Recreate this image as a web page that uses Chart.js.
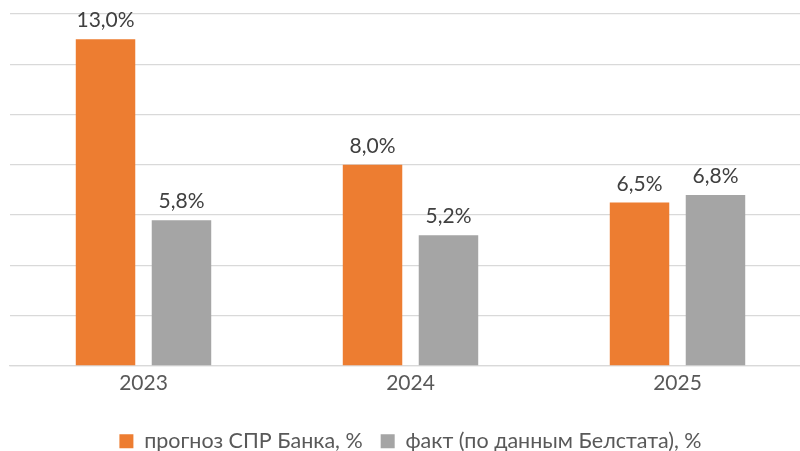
<!DOCTYPE html>
<html><head><meta charset="utf-8">
<script src="https://cdn.jsdelivr.net/npm/chart.js@4"></script>
<style>
html,body{margin:0;padding:0;background:#fff;overflow:hidden;}
#wrap{width:812px;height:462px;position:relative;}
</style></head>
<body>
<div id="wrap"><canvas id="c"></canvas></div>
<script>
const categories = ['2023', '2024', '2025'];
const seriesNames = ['прогноз СПР Банка, %', 'факт (по данным Белстата), %'];
const forecastValues = [13.0, 8.0, 6.5];
const actualValues = [5.8, 5.2, 6.8];
const yMax = 14;
const yStep = 2;

const fmt = v => v.toFixed(1).replace('.', ',') + '%';

const labelPlugin = {
  id: 'valueLabels',
  afterDatasetsDraw(chart) {
    const ctx = chart.ctx;
    ctx.save();
    ctx.font = '21px Lato';
    ctx.fillStyle = '#404040';
    ctx.textAlign = 'center';
    ctx.textBaseline = 'alphabetic';
    chart.data.datasets.forEach((ds, i) => {
      chart.getDatasetMeta(i).data.forEach((bar, j) => {
        ctx.fillText(fmt(ds.data[j]), bar.x, bar.y - 12);
      });
    });
    ctx.restore();
  }
};

new Chart(document.getElementById('c'), {
  type: 'bar',
  data: {
    labels: categories,
    datasets: [
      {label: seriesNames[0], data: forecastValues, backgroundColor: '#ED7D31'},
      {label: seriesNames[1], data: actualValues, backgroundColor: '#A5A5A5'}
    ]
  },
  options: {
    responsive: true,
    maintainAspectRatio: false,
    animation: false,
    categoryPercentage: 0.569,
    barPercentage: 0.783,
    layout: {padding: {left: 10, right: 1, top: 14, bottom: 0}},
    scales: {
      x: {
        grid: {display: false, drawTicks: false},
        border: {display: true, color: '#d9d9d9', width: 1.3},
        ticks: {font: {family: 'Lato', size: 21}, color: '#595959', padding: 5},
        afterFit(s) { s.height = 46.5; }
      },
      y: {
        min: 0, max: yMax,
        ticks: {display: false, stepSize: yStep},
        grid: {color: '#d9d9d9', lineWidth: 1.3, drawTicks: false},
        border: {display: false},
        afterFit(s) { s.width = 0; }
      }
    },
    plugins: {
      legend: {
        position: 'bottom',
        labels: {
          font: {family: 'Lato', size: 21.5},
          color: '#595959',
          boxWidth: 14, boxHeight: 14,
          padding: 18
        }
      },
      tooltip: {enabled: false}
    }
  },
  plugins: [labelPlugin]
});
</script>
</body></html>
